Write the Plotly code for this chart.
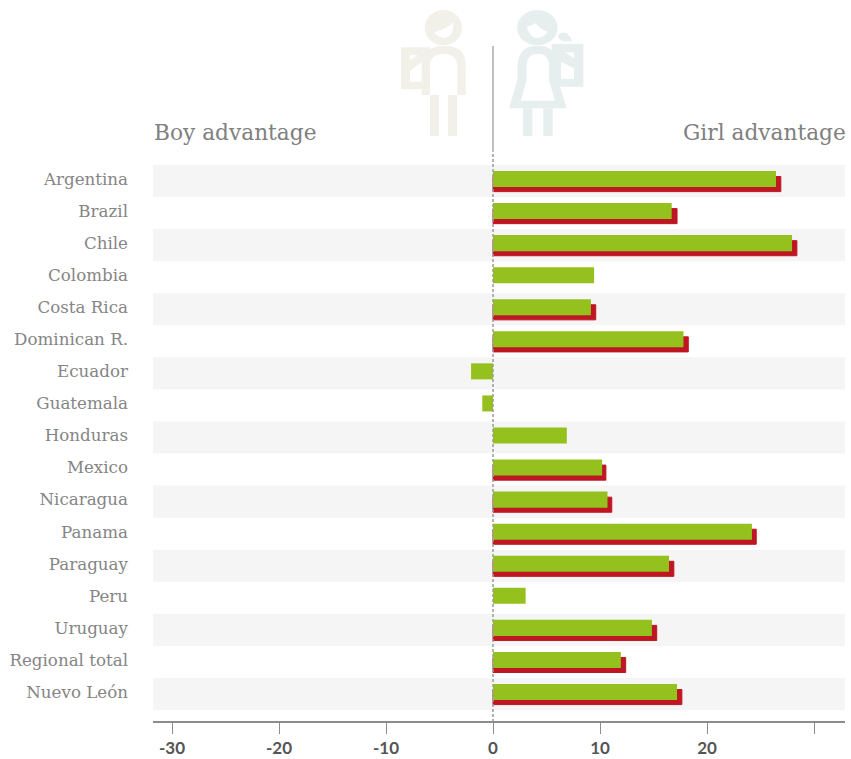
import plotly.graph_objects as go

countries = ["Argentina", "Brazil", "Chile", "Colombia", "Costa Rica", "Dominican R.", "Ecuador", "Guatemala",
             "Honduras", "Mexico", "Nicaragua", "Panama", "Paraguay", "Peru", "Uruguay", "Regional total", "Nuevo León"]
green_values = [26.45, 16.7, 27.95, 9.45, 9.15, 17.8, -2.05, -1.0, 6.9, 10.2, 10.7, 24.2, 16.45, 3.05, 14.85, 11.95, 17.2]
red_values = [26.9, 17.2, 28.4, None, 9.6, 18.25, None, None, None, 10.55, 11.1, 24.6, 16.9, None, 15.3, 12.4, 17.65]
tick_values = [-30, -20, -10, 0, 10, 20, 30]
tick_labels = ["-30", "-20", "-10", "0", "10", "20", ""]

W, H = 851, 759
L, R, T, B = 153, 845, 165, 721
GREEN, RED, BAND = "#95c11f", "#be1622", "#f5f5f5"
BOY, GIRL = "#f1f1ea", "#e6eeee"
SLAB = "DejaVu Serif"

def px(x): return (x - L) / (R - L)
def py(y): return (B - y) / (B - T)
def zx(x): return px(380 + x / 3)
def zy(y): return py(y / 3)

def path(*cmds):
    out = []
    for c in cmds:
        if isinstance(c, str):
            out.append(c)
        else:
            out.append(f"{zx(c[0]):.5f},{zy(c[1]):.5f}")
    return " ".join(out)

def poly(pts, color):
    d = "M " + " L ".join(f"{zx(a):.5f},{zy(b):.5f}" for a, b in pts) + " Z"
    return dict(type="path", xref="paper", yref="paper", path=d, fillcolor=color, line_width=0, layer="below")

def curve(d, color):
    return dict(type="path", xref="paper", yref="paper", path=d, fillcolor=color, line_width=0, layer="below")

def ell(cx, cy, rx, ry, color):
    return dict(type="circle", xref="paper", yref="paper", x0=zx(cx - rx), x1=zx(cx + rx),
                y0=zy(cy + ry), y1=zy(cy - ry), fillcolor=color, line_width=0, layer="below")

shapes = []
# Alternate row bands
for i in range(0, len(countries), 2):
    shapes.append(dict(type="rect", xref="paper", yref="y", x0=0, x1=1, y0=i - 0.5, y1=i + 0.5,
                       fillcolor=BAND, line_width=0, layer="below"))

# Boy icon
shapes += [
    ell(190, 83, 56, 53, BOY),
    curve(path("M", (163, 97), "Q", (205, 85), (220, 66), "Q", (222, 113), (190, 113), "Q", (175, 113), (163, 97), "Z"), "#ffffff"),
    poly([(63, 142), (150, 142), (150, 268), (63, 268)], BOY),
    poly([(90, 165), (113, 165), (90, 181)], "#ffffff"),
    poly([(125, 187), (125, 245), (90, 245), (90, 212)], "#ffffff"),
    curve(path("M", (125, 268), "L", (125, 285), "L", (150, 285), "L", (150, 200), "Q", (150, 162), (191, 162), "Q", (232, 162), (232, 200),
               "L", (232, 285), "L", (257, 285), "L", (257, 195), "Q", (257, 137), (191, 137), "Q", (165, 137), (150, 148), "L", (150, 268), "Z"), BOY),
    poly([(150, 285), (177, 285), (177, 408), (150, 408)], BOY),
    poly([(204, 285), (231, 285), (231, 408), (204, 408)], BOY),
]
# Girl icon
shapes += [
    ell(472, 83, 61, 53, GIRL),
    curve(path("M", (440, 80), "Q", (455, 78), (466, 70), "Q", (485, 90), (503, 95), "Q", (490, 114), (470, 114), "Q", (450, 112), (440, 80), "Z"), "#ffffff"),
    curve(path("M", (533, 107), "Q", (545, 93), (560, 100), "Q", (572, 110), (577, 124), "L", (550, 124), "Q", (538, 120), (533, 107), "Z"), GIRL),
    poly([(515, 132), (610, 132), (610, 260), (515, 260)], GIRL),
    poly([(555, 157), (582, 157), (582, 175)], "#ffffff"),
    poly([(543, 185), (582, 205), (582, 237), (543, 237)], "#ffffff"),
    curve(path("M", (413, 238), "L", (387, 325), "L", (560, 325), "L", (533, 238), "L", (533, 200), "Q", (533, 137), (473, 137),
               "Q", (413, 137), (413, 200), "Z",
               "M", (440, 240), "L", (422, 302), "L", (525, 302), "L", (507, 240), "L", (507, 200), "Q", (507, 161), (473, 161),
               "Q", (440, 161), (440, 200), "Z"), GIRL),
    poly([(429, 325), (457, 325), (457, 408), (429, 408)], GIRL),
    poly([(490, 325), (518, 325), (518, 408), (490, 408)], GIRL),
]
# Centre line: solid in the header, dashed through the chart
shapes += [
    dict(type="line", xref="x", yref="paper", x0=0, x1=0, y0=py(46), y1=py(152),
         line=dict(color="#a8a8a8", width=1.5), layer="above"),
    dict(type="line", xref="x", yref="paper", x0=0, x1=0, y0=py(154), y1=0,
         line=dict(color="#9a9a9a", width=1.5, dash="3px,2px"), layer="above"),
]

fig = go.Figure()
fig.add_bar(y=countries, x=red_values, orientation="h", marker=dict(color=RED, line=dict(width=1, color=RED)),
            width=0.47, offset=-0.14, name="red", hoverinfo="x+y")
fig.add_bar(y=countries, x=green_values, orientation="h", marker=dict(color=GREEN, line_width=0),
            width=0.5, offset=-0.313, name="green", hoverinfo="x+y")

x_per_px = 10.7
fig.update_layout(
    width=W, height=H, autosize=False, barmode="overlay", showlegend=False,
    margin=dict(l=L, r=W - R, t=T, b=H - B, autoexpand=False, pad=0),
    paper_bgcolor="white", plot_bgcolor="white",
    font=dict(family=SLAB, color="#808080"),
    shapes=shapes,
    annotations=[
        dict(text="Boy advantage", xref="paper", yref="paper", x=px(152), y=py(133), xanchor="left", yanchor="middle",
             showarrow=False, font=dict(family=SLAB, size=21.7, color="#808080")),
        dict(text="Girl advantage", xref="paper", yref="paper", x=px(848), y=py(133), xanchor="right", yanchor="middle",
             showarrow=False, font=dict(family=SLAB, size=21.7, color="#808080")),
    ],
    xaxis=dict(range=[(L - 493) / x_per_px, (R - 493) / x_per_px], tickmode="array", tickvals=tick_values, ticktext=tick_labels,
               showgrid=False, zeroline=False, showline=True, linecolor="#8c8c8c", linewidth=1.5,
               ticks="outside", ticklen=11, tickwidth=1, tickcolor="#8c8c8c", ticklabelstandoff=0,
               tickfont=dict(family="Lato", size=17, color="#555555", weight=700)),
    yaxis=dict(categoryorder="array", categoryarray=countries, range=[16.842, -0.5],
               showgrid=False, zeroline=False, showline=False, ticks="", ticklabelstandoff=24, ticklabelshift=2,
               tickfont=dict(family=SLAB, size=16.7, color="#858585"), automargin=False),
)
fig.write_html("out.html", post_script="document.body.style.margin='0';", config={"displayModeBar": False})
